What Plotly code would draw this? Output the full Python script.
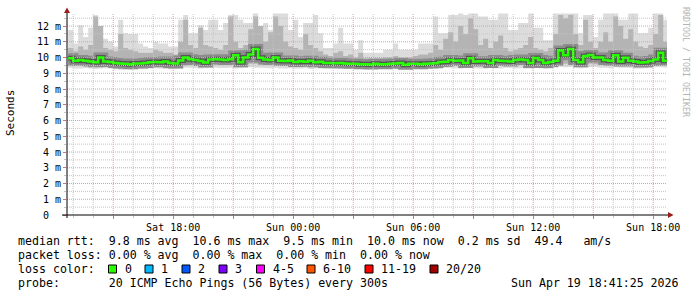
import plotly.graph_objects as go
import pandas as pd

# ---------------- data ----------------
times = pd.date_range("2026-04-18 12:45:00", periods=121, freq="15min")

median_ms = [9.95, 9.80, 9.85, 9.80, 9.75, 9.70, 10.00, 9.75, 9.72, 9.65,
             9.62, 9.60, 9.58, 9.63, 9.62, 9.65, 9.70, 9.72, 9.70, 9.75,
             9.65, 9.62, 9.82, 10.00, 9.90, 9.85, 9.78, 9.68, 9.88, 9.90,
             9.88, 9.85, 9.90, 10.15, 9.70, 10.00, 10.20, 10.55, 9.98, 9.88,
             9.85, 10.00, 9.80, 9.78, 9.82, 9.72, 9.76, 9.74, 9.80, 9.70,
             9.74, 9.66, 9.65, 9.64, 9.66, 9.62, 9.60, 9.60, 9.58, 9.58,
             9.56, 9.60, 9.58, 9.58, 9.60, 9.62, 9.66, 9.55, 9.60, 9.60,
             9.58, 9.60, 9.62, 9.64, 9.72, 9.74, 9.84, 9.80, 9.82, 9.66,
             9.95, 9.75, 9.76, 9.76, 9.65, 9.85, 9.80, 9.78, 9.75, 9.85,
             9.88, 9.84, 9.65, 9.97, 9.84, 9.65, 9.72, 9.80, 10.45, 10.15,
             10.55, 9.84, 9.70, 10.10, 10.16, 10.00, 10.00, 9.85, 9.80, 10.15,
             9.75, 9.98, 9.80, 9.75, 9.68, 9.70, 9.78, 9.88, 10.30, 9.80,
             9.95]

top_ms = [11.75, 10.9, 12.05, 11.3, 11.9, 12.7, 11.3, 11.2, 11.0, 10.7,
          12.4, 11.55, 11.5, 11.5, 10.9, 10.7, 10.6, 11.0, 10.9, 10.9,
          10.7, 10.7, 12.4, 12.7, 11.55, 11.55, 12.05, 11.75, 12.4, 12.4,
          11.75, 12.2, 12.7, 12.7, 12.4, 12.2, 12.2, 12.8, 11.9, 12.2,
          11.75, 12.8, 12.8, 12.8, 11.75, 12.4, 11.3, 12.2, 12.2, 12.7,
          11.55, 10.6, 10.6, 10.9, 11.9, 10.9, 10.9, 10.5, 11.1, 10.3,
          10.3, 10.3, 10.3, 10.5, 10.5, 10.9, 10.5, 10.5, 10.5, 10.5,
          10.9, 10.9, 10.9, 12.6, 11.55, 11.55, 12.7, 12.7, 12.8, 12.7,
          12.8, 12.8, 12.6, 12.6, 12.4, 12.4, 12.8, 12.8, 11.75, 11.75,
          12.2, 12.2, 12.8, 11.9, 11.9, 11.1, 11.1, 12.8, 12.8, 12.8,
          12.8, 12.8, 11.55, 12.7, 12.7, 11.3, 12.4, 12.8, 12.8, 12.8,
          12.4, 12.4, 12.8, 12.8, 11.55, 11.55, 11.9, 12.8, 12.8, 12.4,
          12.4]

mid_ms = [10.6, 10.4, 10.7, 10.5, 10.8, 12.6, 12.0, 10.6, 10.5, 10.4,
          11.5, 10.6, 10.5, 10.4, 10.3, 10.3, 10.3, 10.5, 10.4, 10.3,
          10.3, 10.2, 11.0, 12.4, 10.8, 10.6, 11.9, 10.8, 10.7, 10.6,
          10.5, 10.8, 12.6, 11.0, 10.6, 10.8, 11.8, 12.6, 12.0, 11.0,
          11.6, 12.6, 12.0, 11.0, 10.7, 10.6, 10.5, 11.5, 10.8, 10.6,
          10.4, 10.2, 10.1, 10.3, 10.4, 10.1, 10.2, 10.0, 10.3, 9.95,
          9.95, 9.95, 9.95, 10.0, 10.0, 10.1, 10.0, 10.0, 10.0, 10.1,
          10.2, 10.2, 10.3, 10.8, 10.5, 11.2, 11.6, 11.0, 12.0, 11.5,
          12.5, 11.8, 10.8, 11.2, 10.6, 11.0, 11.4, 10.6, 10.4, 10.5,
          10.6, 10.8, 11.3, 10.6, 10.5, 10.4, 10.6, 11.5, 12.7, 12.5,
          12.7, 11.5, 10.8, 12.4, 11.0, 10.6, 11.0, 11.6, 11.0, 12.6,
          12.0, 11.2, 11.8, 11.0, 10.7, 10.6, 10.8, 11.5, 12.7, 11.0,
          11.3]

lower_ms = [9.55, 9.50, 9.50, 9.50, 9.48, 9.45, 9.50, 9.50, 9.48, 9.42,
            9.40, 9.40, 9.40, 9.42, 9.42, 9.45, 9.45, 9.48, 9.45, 9.45,
            9.42, 9.42, 9.50, 9.55, 9.55, 9.52, 9.50, 9.48, 9.55, 9.55,
            9.55, 9.55, 9.55, 9.50, 9.50, 9.55, 9.60, 9.60, 9.55, 9.55,
            9.52, 9.55, 9.50, 9.50, 9.50, 9.47, 9.47, 9.47, 9.45, 9.45,
            9.45, 9.43, 9.42, 9.42, 9.43, 9.40, 9.40, 9.42, 9.40, 9.40,
            9.40, 9.42, 9.40, 9.40, 9.42, 9.42, 9.42, 9.40, 9.42, 9.40,
            9.40, 9.42, 9.43, 9.45, 9.48, 9.50, 9.52, 9.50, 9.52, 9.45,
            9.55, 9.50, 9.50, 9.50, 9.47, 9.52, 9.50, 9.50, 9.50, 9.52,
            9.55, 9.52, 9.45, 9.55, 9.52, 9.45, 9.48, 9.50, 9.60, 9.60,
            9.62, 9.55, 9.50, 9.58, 9.60, 9.58, 9.58, 9.55, 9.52, 9.58,
            9.52, 9.55, 9.52, 9.50, 9.48, 9.48, 9.52, 9.55, 9.60, 9.52,
            9.58]

bottom_ms = [9.35, 9.30, 9.30, 9.32, 9.30, 9.28, 9.30, 9.32, 9.30, 9.25,
             9.22, 9.25, 9.22, 9.25, 9.28, 9.30, 9.30, 9.32, 9.30, 9.28,
             9.25, 9.28, 9.30, 9.35, 9.35, 9.33, 9.30, 9.32, 9.35, 9.35,
             9.33, 9.33, 9.35, 9.30, 9.32, 9.35, 9.38, 9.35, 9.35, 9.33,
             9.32, 9.35, 9.30, 9.30, 9.32, 9.30, 9.30, 9.32, 9.28, 9.30,
             9.30, 9.28, 9.30, 9.28, 9.30, 9.28, 9.28, 9.30, 9.30, 9.28,
             9.30, 9.30, 9.28, 9.30, 9.30, 9.32, 9.28, 9.30, 9.30, 9.28,
             9.30, 9.30, 9.32, 9.30, 9.35, 9.35, 9.35, 9.32, 9.30, 9.35,
             9.35, 9.32, 9.30, 9.30, 9.35, 9.32, 9.30, 9.35, 9.35, 9.30,
             9.32, 9.30, 9.30, 9.35, 9.32, 9.28, 9.30, 9.35, 9.40, 9.38,
             9.40, 9.35, 9.32, 9.35, 9.38, 9.40, 9.35, 9.35, 9.32, 9.38,
             9.35, 9.35, 9.35, 9.30, 9.30, 9.32, 9.35, 9.38, 9.38, 9.35,
             9.38]

y_tick_vals = list(range(13))
y_tick_text = ["0\u00a0\u00a0"] + [f"{v}\u00a0m" for v in range(1, 13)]
x_label_map = {"2026-04-18 18:00": "Sat 18:00", "2026-04-19 00:00": "Sun 00:00",
               "2026-04-19 06:00": "Sun 06:00", "2026-04-19 12:00": "Sun 12:00",
               "2026-04-19 18:00": "Sun 18:00"}
x_start, x_end = "2026-04-18 12:41:25", "2026-04-19 18:41:25"

legend_line1 = "median rtt:  9.8 ms avg  10.6 ms max  9.5 ms min  10.0 ms now  0.2 ms sd  49.4   am/s"
legend_line2 = "packet loss: 0.00 % avg  0.00 % max  0.00 % min  0.00 % now"
legend_line4 = "probe:       20 ICMP Echo Pings (56 Bytes) every 300s"
date_text = "Sun Apr 19 18:41:25 2026"
loss_labels = ["0", "1", "2", "3", "4-5", "6-10", "11-19", "20/20"]
loss_colors = ["#26ff00", "#00b8ff", "#0059ff", "#7e00ff", "#ff00ff", "#ff5500", "#ff0000", "#a10000"]

# ---------------- layout constants ----------------
W, H = 697, 297
L, R, T, B = 67, 30, 13, 82
PW, PH = W - L - R, H - T - B
Y_MAX = 12.83
MONO = "DejaVu Sans Mono"


def px_x(px):
    return (px - L) / PW


def px_y(py):
    return (T + PH - py) / PH


def nb(s):
    return s.replace(" ", "\u00a0")


fig = go.Figure()

# smoke: light outer band
fig.add_trace(go.Scatter(x=times, y=bottom_ms, mode="lines", line=dict(width=0, shape="hv"),
                         hoverinfo="skip", showlegend=False))
fig.add_trace(go.Scatter(x=times, y=top_ms, mode="lines", line=dict(width=0, shape="hv"),
                         fill="tonexty", fillcolor="#dcdcdc", hoverinfo="skip", showlegend=False))
# smoke: medium band
fig.add_trace(go.Scatter(x=times, y=lower_ms, mode="lines", line=dict(width=0, shape="hv"),
                         hoverinfo="skip", showlegend=False))
fig.add_trace(go.Scatter(x=times, y=mid_ms, mode="lines", line=dict(width=0, shape="hv"),
                         fill="tonexty", fillcolor="#b4b4b4", hoverinfo="skip", showlegend=False))
# dark smoke around median
fig.add_trace(go.Scatter(x=times, y=median_ms, mode="lines",
                         line=dict(width=10, shape="hv", color="#8c8c8c"),
                         hoverinfo="skip", showlegend=False))
fig.add_trace(go.Scatter(x=times, y=median_ms, mode="lines",
                         line=dict(width=5, shape="hv", color="#555555"),
                         hoverinfo="skip", showlegend=False))
# median line
fig.add_trace(go.Scatter(x=times, y=median_ms, mode="lines",
                         line=dict(width=2.5, shape="hv", color="#26ff00"),
                         showlegend=False))

shapes = []
# grid drawn above data (as rrdtool does)
for t in pd.date_range("2026-04-18 13:00", "2026-04-19 18:00", freq="1h"):
    major = t.hour % 3 == 0
    shapes.append(dict(type="line", xref="x", yref="paper", x0=t, x1=t, y0=0, y1=1,
                       line=dict(color="#e49a9a" if major else "#c4c4c4", width=1, dash="1px,1px"),
                       layer="above"))
for k in range(1, 26):
    v = k * 0.5
    major = k % 2 == 0
    shapes.append(dict(type="line", xref="paper", yref="y", x0=0, x1=1, y0=v, y1=v,
                       line=dict(color="#e49a9a" if major else "#c4c4c4", width=1, dash="1px,1px"),
                       layer="above"))
# axes lines
shapes.append(dict(type="line", xref="paper", yref="paper", x0=px_x(62), x1=px_x(670),
                   y0=0, y1=0, line=dict(color="#000000", width=1), layer="above"))
shapes.append(dict(type="line", xref="paper", yref="paper", x0=0, x1=0,
                   y0=px_y(218), y1=px_y(12), line=dict(color="#000000", width=1), layer="above"))
# arrows
shapes.append(dict(type="path", xref="paper", yref="paper",
                   path=f"M {px_x(673.5)},{px_y(215)} L {px_x(668)},{px_y(212)} L {px_x(668)},{px_y(218)} Z",
                   fillcolor="#9b1c1c", line=dict(width=0), layer="above"))
shapes.append(dict(type="path", xref="paper", yref="paper",
                   path=f"M {px_x(67)},{px_y(7.5)} L {px_x(64)},{px_y(13)} L {px_x(70)},{px_y(13)} Z",
                   fillcolor="#9b1c1c", line=dict(width=0), layer="above"))

annotations = []
# y axis title
annotations.append(dict(text="Seconds", xref="paper", yref="paper", x=px_x(10), y=px_y(113),
                        xanchor="center", yanchor="middle", textangle=-90, showarrow=False,
                        font=dict(family=MONO, size=11, color="#000000")))
# watermark
annotations.append(dict(text=nb("RRDTOOL / TOBI OETIKER"), xref="paper", yref="paper",
                        x=px_x(686), y=px_y(5), xanchor="center", yanchor="top", textangle=90,
                        showarrow=False, font=dict(family=MONO, size=8.3, color="#b4b4b4")))
# legend lines
LEG_FONT = dict(family=MONO, size=11.6, color="#000000")
for txt, py in [(legend_line1, 241), (legend_line2, 255), (legend_line4, 283)]:
    annotations.append(dict(text=nb(txt), xref="paper", yref="paper", x=px_x(16), y=px_y(py),
                            xanchor="left", yanchor="middle", showarrow=False, font=LEG_FONT))
annotations.append(dict(text=nb(date_text), xref="paper", yref="paper", x=px_x(681), y=px_y(283),
                        xanchor="right", yanchor="middle", showarrow=False, font=LEG_FONT))
annotations.append(dict(text=nb("loss color:"), xref="paper", yref="paper", x=px_x(16), y=px_y(269),
                        xanchor="left", yanchor="middle", showarrow=False, font=LEG_FONT))
box_px = [108.5, 145, 182, 219, 256.5, 307, 365, 430]
for bx, lab, col in zip(box_px, loss_labels, loss_colors):
    shapes.append(dict(type="rect", xref="paper", yref="paper",
                       x0=px_x(bx), x1=px_x(bx + 8), y0=px_y(273), y1=px_y(265),
                       fillcolor=col, line=dict(color="#000000", width=1), layer="above"))
    annotations.append(dict(text=lab, xref="paper", yref="paper", x=px_x(bx + 14), y=px_y(269),
                            xanchor="left", yanchor="middle", showarrow=False, font=LEG_FONT))

x_tick_vals = list(pd.date_range("2026-04-18 15:00", "2026-04-19 18:00", freq="3h"))
x_tick_text = [x_label_map.get(t.strftime("%Y-%m-%d %H:%M"), "") for t in x_tick_vals]

fig.update_layout(
    width=W, height=H,
    margin=dict(l=L, r=R, t=T, b=B, autoexpand=False),
    paper_bgcolor="#ffffff", plot_bgcolor="#ffffff",
    showlegend=False,
    shapes=shapes, annotations=annotations,
    xaxis=dict(range=[x_start, x_end], tickvals=x_tick_vals, ticktext=x_tick_text,
               showgrid=False, zeroline=False, showline=False,
               ticks="outside", ticklen=3, tickcolor="#e07070", tickwidth=1,
               tickfont=dict(family=MONO, size=10, color="#000000"),
               minor=dict(dtick=3600000, ticks="outside", ticklen=2, tickcolor="#c4c4c4", showgrid=False),
               automargin=False, fixedrange=True),
    yaxis=dict(range=[0, Y_MAX], tickvals=y_tick_vals, ticktext=y_tick_text,
               showgrid=False, zeroline=False, showline=False,
               ticks="outside", ticklen=3, tickcolor="#e07070", tickwidth=1,
               tickfont=dict(family=MONO, size=10, color="#000000"),
               minor=dict(tickvals=[k * 0.5 for k in range(1, 26, 2)], ticks="outside", ticklen=2,
                          tickcolor="#c4c4c4", showgrid=False),
               automargin=False, fixedrange=True),
)

fig.write_html("out.html")
